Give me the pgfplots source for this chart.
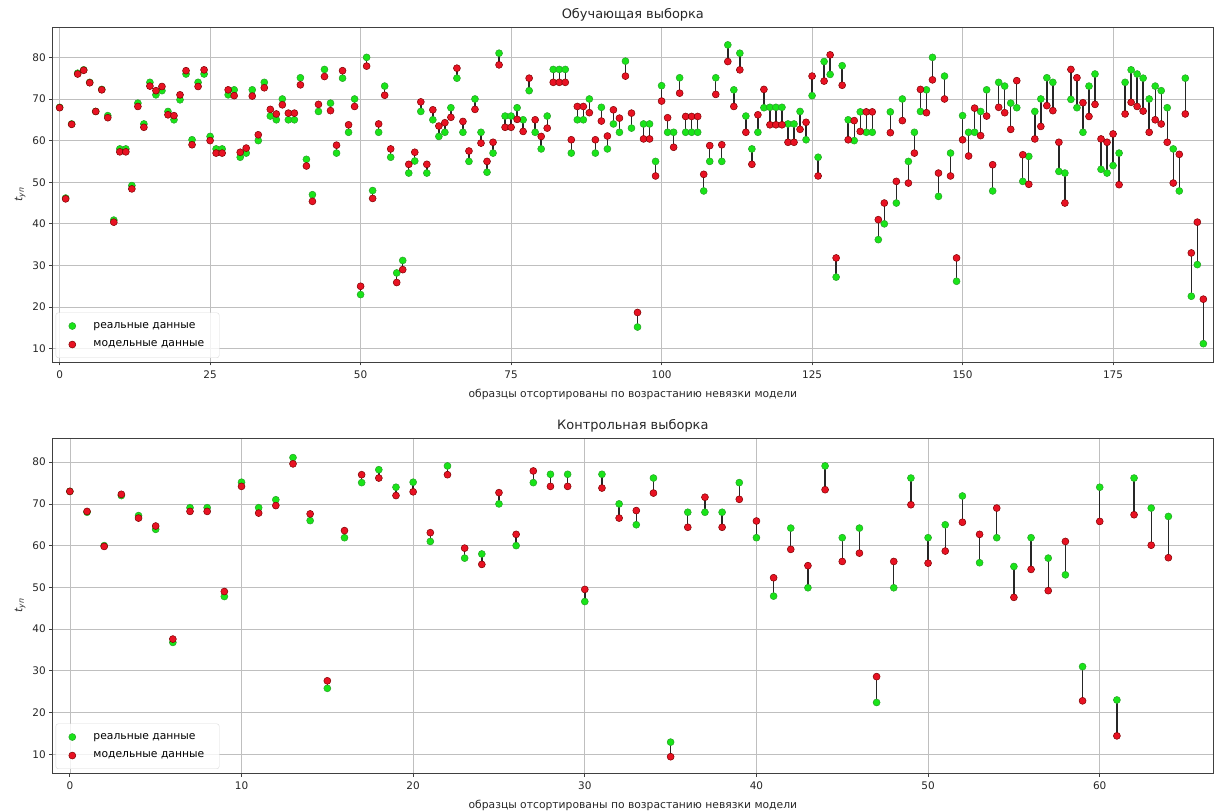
\documentclass[border=0pt]{standalone}
\usepackage{fontspec}
\setmainfont{DejaVu Sans}
\usepackage{pgfplots}
\usepackage{pgfplotstable}
\pgfplotsset{compat=1.18}
\definecolor{gfill}{RGB}{25,228,25}
\definecolor{gdraw}{RGB}{40,160,40}
\definecolor{rfill}{RGB}{232,18,35}
\definecolor{rdraw}{RGB}{125,0,0}

\pgfplotstableread{
x r m
0 68 67.9
1 46.2 46
2 64 63.9
3 76.2 76
4 77 76.9
5 74 73.9
6 67 67
7 72.3 72.2
8 66 65.5
9 40.9 40.4
10 58 57.3
11 58 57.3
12 49.2 48.4
13 69 68.2
14 64 63.2
15 74 73.1
16 71 72
17 72 73
18 67 66.2
19 65 66
20 69.8 71
21 76 76.8
22 60.2 59
23 74 73
24 76 77
25 61 60
26 58 57
27 58 57
28 71 72.2
29 72.2 70.8
30 56 57.2
31 57 58.2
32 72.2 70.7
33 60 61.4
34 74 72.7
35 65.9 67.5
36 65 66.4
37 70 68.6
38 65 66.6
39 65 66.6
40 75.1 73.4
41 55.5 53.9
42 47 45.4
43 67 68.7
44 77.1 75.4
45 69 67.2
46 57 58.9
47 75 76.8
48 62 63.8
49 70 68.2
50 23 25
51 80 77.9
52 48 46.1
53 62 64
54 73.1 70.9
55 56 58
56 28.2 25.9
57 31.2 29
58 52.2 54.3
59 55.1 57.2
60 67 69.3
61 52.2 54.3
62 65 67.4
63 61 63.5
64 62 64.3
65 67.9 65.6
66 75 77.4
67 62 64.6
68 55 57.5
69 70 67.5
70 62 59.4
71 52.4 55
72 57 59.6
73 81 78.2
74 65.9 63.2
75 65.9 63.2
76 67.9 65.1
77 65 62.2
78 72 75
79 62 65
80 58 61
81 65.9 63
82 77.1 74
83 77.1 74
84 77.1 74
85 57 60.2
86 65 68.2
87 65 68.2
88 70 66.7
89 57 60.2
90 68 64.7
91 58 61.1
92 64 67.4
93 62 65.4
94 79.1 75.5
95 63 66.6
96 15.2 18.7
97 64 60.4
98 64 60.4
99 55 51.5
100 73.2 69.5
101 62 65.5
102 62 58.4
103 75.1 71.4
104 62 65.8
105 62 65.8
106 62 65.8
107 47.9 51.9
108 55 58.8
109 75.1 71.1
110 55 59
111 83 79
112 72.2 68.2
113 81 77
114 65.9 62
115 58 54.3
116 62 66.2
117 67.9 72.3
118 68 63.8
119 68 63.8
120 68 63.8
121 64 59.6
122 64 59.6
123 67 62.7
124 60.2 64.4
125 70.8 75.5
126 56 51.5
127 79 74.3
128 75.9 80.6
129 27.2 31.8
130 78 73.3
131 65 60.2
132 60 64.8
133 66.9 62.2
134 62 66.9
135 62 66.9
136 36.2 41
137 40 45
138 66.9 61.9
139 45 50.2
140 70 64.8
141 55 49.8
142 62 57
143 67 72.3
144 72.2 66.7
145 80 74.6
146 46.6 52.2
147 75.5 70
148 57 51.5
149 26.2 31.8
150 66 60.2
151 62 56.3
152 62 67.8
153 67 61.2
154 72.2 65.9
155 47.9 54.2
156 74 68
157 73.1 66.7
158 69 62.7
159 67.9 74.4
160 50.2 56.6
161 56.2 49.5
162 67 60.4
163 70 63.4
164 75.1 68.4
165 74 67.2
166 52.6 59.6
167 52.2 45
168 69.9 77.1
169 67.9 75.1
170 62 69.1
171 73.1 65.8
172 76 68.7
173 53.1 60.4
174 52.2 59.6
175 54 61.6
176 57 49.4
177 74 66.4
178 77 69.2
179 76 68.2
180 75 67.1
181 70 62
182 73.1 65
183 72 64
184 67.9 59.6
185 58 49.8
186 47.9 56.7
187 75 66.4
188 22.6 33
189 30.2 40.4
190 11.2 21.9
}\train

\pgfplotstableread{
x r m
0 73 73
1 68 68.2
2 60 59.8
3 72 72.3
4 67.2 66.6
5 63.9 64.7
6 36.8 37.6
7 69.1 68.2
8 69.1 68.2
9 47.8 49
10 75.2 74.2
11 69.1 67.8
12 71 69.6
13 81.1 79.6
14 66 67.6
15 25.8 27.6
16 61.9 63.6
17 75.1 77
18 78.2 76.2
19 74 72
20 75.2 72.9
21 61 63.1
22 79.1 77
23 57 59.4
24 58 55.5
25 70 72.7
26 60 62.7
27 75.1 77.9
28 77.1 74.2
29 77.1 74.2
30 46.6 49.5
31 77.1 73.8
32 70 66.6
33 65 68.4
34 76.2 72.6
35 12.9 9.4
36 68 64.4
37 68 71.6
38 68 64.4
39 75.1 71.1
40 61.9 65.9
41 47.9 52.3
42 64.2 59.1
43 49.9 55.2
44 79.1 73.4
45 61.9 56.2
46 64.2 58.2
47 22.4 28.6
48 49.9 56.2
49 76.2 69.8
50 61.9 55.8
51 65 58.7
52 71.9 65.6
53 55.9 62.7
54 61.9 69
55 55 47.6
56 61.9 54.3
57 57 49.2
58 53 61
59 31 22.8
60 74 65.8
61 23 14.4
62 76.2 67.4
63 69 60.1
64 67 57.1
}\test

\pgfplotsset{
  myax/.style={
    scale only axis, width=1160.3bp, height=335bp,
    grid=major, major grid style={black!25, line width=0.7bp},
    axis line style={black!75, line width=0.9bp},
    tick pos=left, tick align=outside, major tick length=3.5bp,
    tick style={black!75, line width=0.8bp},
    /pgf/number format/assume math mode=true,
    ticklabel style={font=\fontsize{10.5}{12}\selectfont, text=black!85},
    xticklabel style={yshift=-2bp},
    label style={font=\fontsize{10.8}{12}\selectfont, text=black!85},
    xlabel style={yshift=-3bp},
    title style={font=\fontsize{13}{15}\selectfont, text=black!85, yshift=-4bp},
    ytick={10,20,...,80},
    xlabel={образцы отсортированы по возрастанию невязки модели},
    ylabel={\textit{t}\textsubscript{\textit{уп}}},
    legend cell align=left,
    legend image code/.code={%
      \node[draw=none, fill=none, inner sep=0pt, minimum width=18bp,
        minimum height=2bp] at (9bp,0bp) {};
      \draw[mark repeat=2, mark phase=2, #1, opacity=1] plot coordinates
        {(0bp,0bp) (9bp,0bp) (18bp,0bp)};},
    legend style={at={(0.0025,0.012)}, anchor=south west, draw=black!15,
      rounded corners=2.5bp, fill=white, fill opacity=0.8, text opacity=1,
      font=\fontsize{10.8}{13}\selectfont, inner xsep=13bp, inner ysep=7.5bp,
      row sep=7bp, column sep=1bp},
  },
  seg/.style={forget plot, no marks, black!85, line width=1.4bp,
    quiver={u=0, v=\thisrow{m}-\thisrow{r}}},
  realp/.style={only marks, mark=*, mark size=3.5bp,
    mark options={fill=gfill, draw=gdraw, line width=0.5bp}},
  modelp/.style={only marks, mark=*, mark size=3.5bp,
    mark options={fill=rfill, draw=rdraw, line width=0.5bp}},
}

\begin{document}
\begin{tikzpicture}
\path[use as bounding box] (-52.7bp,-38bp) rectangle (1162.3bp,773bp);
\begin{axis}[myax, at={(0bp,411bp)}, anchor=south west,
  title={Обучающая выборка},
  xmin=-1.15, xmax=191.6, ymin=6.8, ymax=87.3,
  xtick={0,25,...,175}]
\addplot[seg] table[x=x, y=r] {\train};
\addplot[realp] table[x=x, y=r] {\train};
\addlegendentry{реальные данные}
\addplot[modelp] table[x=x, y=m] {\train};
\addlegendentry{модельные данные}
\end{axis}
\begin{axis}[myax, at={(0bp,0bp)}, anchor=south west,
  title={Контрольная выборка},
  xmin=-1.0, xmax=66.6, ymin=5.5, ymax=85.8,
  xtick={0,10,...,60}]
\addplot[seg] table[x=x, y=r] {\test};
\addplot[realp] table[x=x, y=r] {\test};
\addlegendentry{реальные данные}
\addplot[modelp] table[x=x, y=m] {\test};
\addlegendentry{модельные данные}
\end{axis}
\end{tikzpicture}
\end{document}
